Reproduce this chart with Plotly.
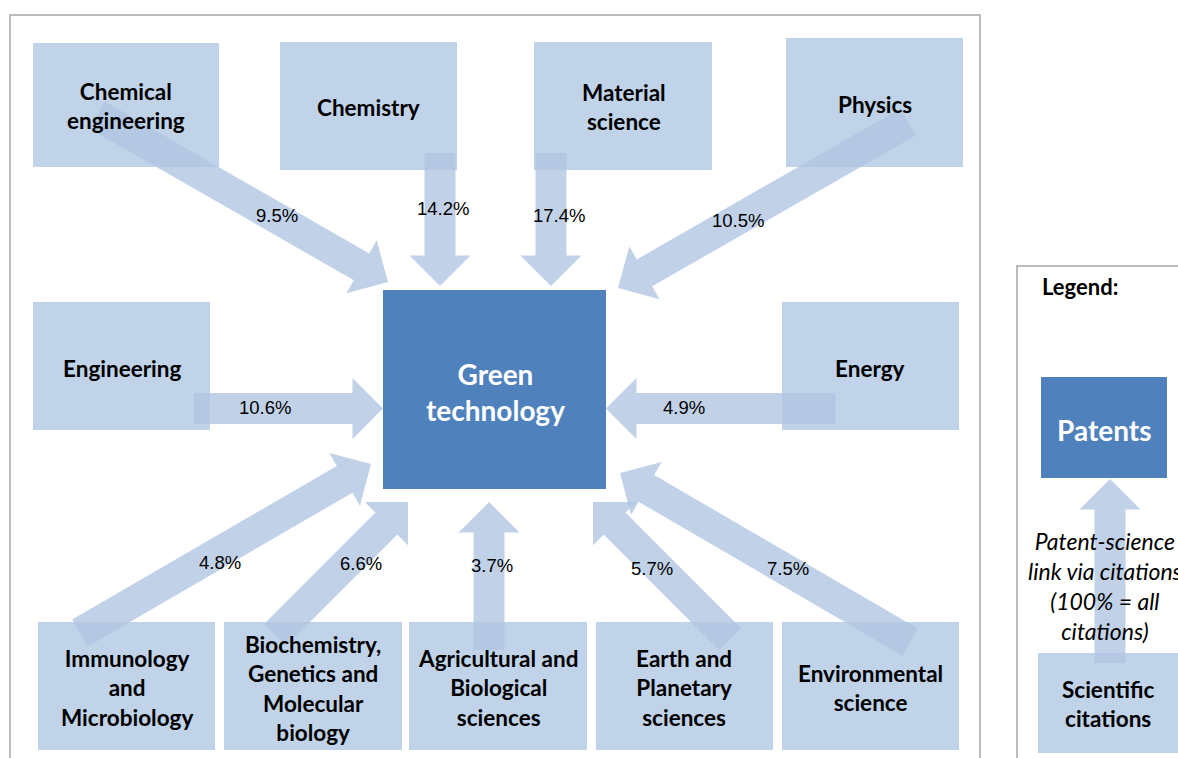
import math
import plotly.graph_objects as go

# ---------------- data ----------------
fields = [
    "Chemical<br>engineering", "Chemistry", "Material<br>science", "Physics",
    "Engineering", "Energy",
    "Immunology<br>and<br>Microbiology",
    "Biochemistry,<br>Genetics and<br>Molecular<br>biology",
    "Agricultural and<br>Biological<br>sciences",
    "Earth and<br>Planetary<br>sciences",
    "Environmental<br>science",
]
shares = [9.5, 14.2, 17.4, 10.5, 10.6, 4.9, 4.8, 6.6, 3.7, 5.7, 7.5]
target = "Green<br>technology"
legend_title = "Legend:"
legend_target = "Patents"
legend_source = "Scientific<br>citations"
legend_note = "<i>Patent-science<br>link via citations<br>(100% = all<br>citations)</i>"

# ---------------- layout geometry (pixels) ----------------
box_rects = [
    (33, 43, 219, 167), (280, 42, 457, 170), (534, 42, 712, 170), (786, 38, 963, 167),
    (33, 302, 210, 430), (782, 302, 959, 430),
    (38, 622, 215, 750), (224, 622, 402, 750), (409, 622, 587, 750),
    (596, 622, 773, 750), (782, 622, 959, 750),
]
label_pos = [
    (126, 106), (368, 107), (624, 107), (875, 104),
    (122, 368), (870, 368),
    (127, 688), (313, 688), (498, 688), (684, 688), (870, 688),
]
arrow_ends = [
    ((97, 115), (388, 282)), ((440, 153), (440, 286)), ((551, 153), (551, 286)),
    ((908, 122), (618, 288)),
    ((194, 408.5), (383, 408.5)), ((835.5, 408.5), (606, 408.5)),
    ((80, 633), (371, 464)), ((275, 635), (408, 502)), ((489, 650), (489, 502)),
    ((730, 639), (593, 502)), ((910, 642), (620, 473)),
]
pct_pos = [
    (277, 215), (443, 208), (559, 215), (738, 220),
    (265, 407), (684, 407),
    (220, 562), (361, 563), (492, 565), (652, 568), (788, 568),
]
target_rect = (383, 290, 606, 489)
leg_target_rect = (1041, 377, 1167, 478)
leg_source_rect = (1038, 653, 1200, 753)
leg_arrow = ((1110, 663), (1110, 479))

LIGHT = "#C0D3E8"
ARROW = "rgba(176,198,226,0.80)"
DARK = "#4F81BD"
FRAME = "#A6A6A6"
BOLD = "Lato"


def arrow_path(tail, tip, w=31.0, hw=61.0, hl=30.5):
    (x0, y0), (x1, y1) = tail, tip
    L = math.hypot(x1 - x0, y1 - y0)
    ux, uy = (x1 - x0) / L, (y1 - y0) / L
    px, py = -uy, ux
    bx, by = x1 - ux * hl, y1 - uy * hl
    pts = [
        (x0 + px * w / 2, y0 + py * w / 2),
        (bx + px * w / 2, by + py * w / 2),
        (bx + px * hw / 2, by + py * hw / 2),
        (x1, y1),
        (bx - px * hw / 2, by - py * hw / 2),
        (bx - px * w / 2, by - py * w / 2),
        (x0 - px * w / 2, y0 - py * w / 2),
    ]
    return "M " + " L ".join(f"{x:.2f},{y:.2f}" for x, y in pts) + " Z"


fig = go.Figure()
fig.add_trace(go.Scatter(x=[0], y=[0], mode="markers", marker=dict(opacity=0),
                         hoverinfo="skip", showlegend=False))

shapes = []
# frames
shapes.append(dict(type="rect", x0=10, y0=15, x1=980, y1=790,
                   line=dict(color=FRAME, width=1.5), fillcolor="rgba(0,0,0,0)"))
shapes.append(dict(type="rect", x0=1017, y0=266, x1=1200, y1=790,
                   line=dict(color=FRAME, width=1.5), fillcolor="rgba(0,0,0,0)"))
# boxes
for (a, b, c, d) in box_rects:
    shapes.append(dict(type="rect", x0=a, y0=b, x1=c, y1=d, line=dict(width=0), fillcolor=LIGHT))
a, b, c, d = target_rect
shapes.append(dict(type="rect", x0=a, y0=b, x1=c, y1=d, line=dict(width=0), fillcolor=DARK))
a, b, c, d = leg_target_rect
shapes.append(dict(type="rect", x0=a, y0=b, x1=c, y1=d, line=dict(width=0), fillcolor=DARK))
a, b, c, d = leg_source_rect
shapes.append(dict(type="rect", x0=a, y0=b, x1=c, y1=d, line=dict(width=0), fillcolor=LIGHT))
# arrows
for tail, tip in arrow_ends:
    shapes.append(dict(type="path", path=arrow_path(tail, tip), line=dict(width=0), fillcolor=ARROW))
shapes.append(dict(type="path", path=arrow_path(*leg_arrow), line=dict(width=0), fillcolor=ARROW))

ann = []
for name, (x, y) in zip(fields, label_pos):
    ann.append(dict(x=x, y=y, text=f"<b>{name}</b>", showarrow=False, xanchor="center",
                    yanchor="middle", font=dict(family=BOLD, size=22.5, color="black")))
for v, (x, y) in zip(shares, pct_pos):
    ann.append(dict(x=x, y=y, text=f"{v}%", showarrow=False, xanchor="center",
                    yanchor="middle", font=dict(family="Liberation Sans, Arial", size=18.5, color="black")))
ann.append(dict(x=495, y=392, text=f"<b>{target}</b>", showarrow=False, xanchor="center",
                yanchor="middle", font=dict(family=BOLD, size=28, color="white")))
ann.append(dict(x=1040, y=286, text=f"<b>{legend_title}</b>", showarrow=False, xanchor="left",
                yanchor="middle", font=dict(family=BOLD, size=22, color="black")))
ann.append(dict(x=1104, y=430, text=f"<b>{legend_target}</b>", showarrow=False, xanchor="center",
                yanchor="middle", font=dict(family=BOLD, size=28, color="white")))
ann.append(dict(x=1108, y=704, text=f"<b>{legend_source}</b>", showarrow=False, xanchor="center",
                yanchor="middle", font=dict(family=BOLD, size=22.5, color="black")))
ann.append(dict(x=1105, y=586, text=legend_note, showarrow=False, xanchor="center",
                yanchor="middle", font=dict(family=BOLD, size=23, color="black")))

fig.update_layout(
    width=1178, height=758, margin=dict(l=0, r=0, t=0, b=0),
    paper_bgcolor="white", plot_bgcolor="white",
    xaxis=dict(range=[0, 1178], visible=False, fixedrange=True),
    yaxis=dict(range=[758, 0], visible=False, fixedrange=True),
    shapes=shapes, annotations=ann, showlegend=False,
)
fig.write_html("out.html", config={"displayModeBar": False},
               post_script="document.body.style.margin='0';")
